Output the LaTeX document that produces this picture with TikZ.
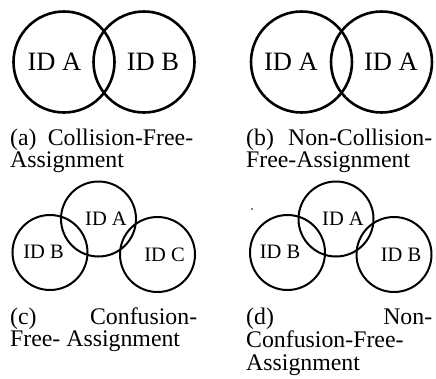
\documentclass[tikz,border=0pt]{standalone}
\usepackage{fontspec}
\setmainfont{Liberation Serif}
\begin{document}
\begin{tikzpicture}[x=1pt,y=-1pt,
  bigc/.style={draw=black,line width=2.6pt,circle,minimum size=101pt,inner sep=0pt},
  smallc/.style={draw=black,line width=2pt,circle,minimum size=75pt,inner sep=0pt},
  bigid/.style={font=\fontsize{26.5}{26.5}\selectfont,inner sep=0pt},
  smallid/.style={font=\fontsize{20.5}{20.5}\selectfont,inner sep=0pt},
  capline/.style={font=\fontsize{23.8}{23}\selectfont,inner sep=0pt,anchor=base west}]
\useasboundingbox (0,0) rectangle (436,378);
% (a)
\node[bigc] (a1) at (64,62) {};
\node[bigc] (a2) at (144,62) {};
\node[bigid] (ta1) at (54.5,62) {ID A};
\node[bigid] (ta2) at (153,62) {ID B};
\node[capline] (ca1) at (10,145) {\makebox[183pt][l]{(a)\hfill Collision-Free-}};
\node[capline] (ca2) at (10,167) {Assignment};
% (b)
\node[bigc] (b1) at (301.5,62) {};
\node[bigc] (b2) at (381.5,62) {};
\node[bigid] (tb1) at (291,62) {ID A};
\node[bigid] (tb2) at (391,62) {ID A};
\node[capline] (cb1) at (246,145) {\makebox[186pt][l]{(b)\hfill Non-Collision-}};
\node[capline] (cb2) at (246,167) {Free-Assignment};
% (c)
\node[smallc] (c1) at (98.5,219) {};
\node[smallc] (c2) at (50,252.5) {};
\node[smallc] (c3) at (157.5,254.5) {};
\node[smallid] (tc1) at (106,219) {ID A};
\node[smallid] (tc2) at (43.5,251.5) {ID B};
\node[smallid] (tc3) at (164.5,255) {ID C};
\node[capline] (cc1) at (10,324) {\makebox[187pt][l]{(c)\hfill Confusion-}};
\node[capline] (cc2) at (10,346.5) {Free- Assignment};
% (d)
\node[smallc] (d1) at (336,219) {};
\node[smallc] (d2) at (287.5,252.5) {};
\node[smallc] (d3) at (394,254.5) {};
\node[smallid] (td1) at (343,219) {ID A};
\node[smallid] (td2) at (280,251.5) {ID B};
\node[smallid] (td3) at (401,255) {ID B};
\fill (252,209) circle (0.9pt);
\node[capline] (cd1) at (246,324.5) {\makebox[186pt][l]{(d)\hfill Non-}};
\node[capline] (cd2) at (246,347.5) {Confusion-Free-};
\node[capline] (cd3) at (246,370.5) {Assignment};
\end{tikzpicture}
\end{document}
